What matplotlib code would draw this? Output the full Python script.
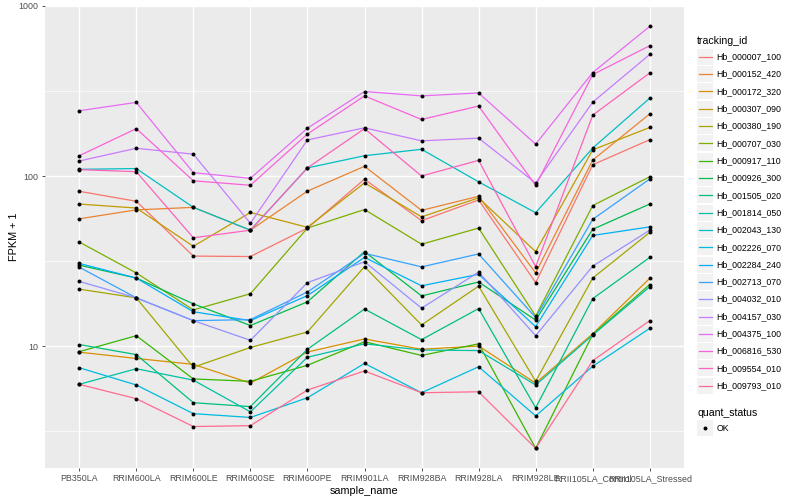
import matplotlib
matplotlib.use("Agg")
from matplotlib import pyplot as plt
from matplotlib.patches import Rectangle
import numpy as np

plt.rcParams['font.family'] = ['Liberation Sans', 'DejaVu Sans']

# x categories
samples = ["PB350LA", "RRIM600LA", "RRIM600LE", "RRIM600SE", "RRIM600PE",
           "RRIM901LA", "RRIM928BA", "RRIM928LA", "RRIM928LE",
           "RRII105LA_Control", "RRII105LA_Stressed"]

tracking_ids = ["Hb_000007_100", "Hb_000152_420", "Hb_000172_320", "Hb_000307_090",
                "Hb_000380_190", "Hb_000707_030", "Hb_000917_110", "Hb_000926_300",
                "Hb_001505_020", "Hb_001814_050", "Hb_002043_130", "Hb_002226_070",
                "Hb_002284_240", "Hb_002713_070", "Hb_004032_010", "Hb_004157_030",
                "Hb_004375_100", "Hb_006816_530", "Hb_009554_010", "Hb_009793_010"]

# FPKM + 1, one list per gene
hb_000007_100 = [81.3, 71, 33.8, 33.6, 49.4, 95.8, 54.6, 72.3, 23.6, 116.5, 163.5]
hb_000152_420 = [56, 63.2, 65.4, 48, 81.5, 114, 62.8, 76, 26.9, 124, 232]
hb_000172_320 = [9.2, 8.45, 7.8, 6.05, 9.22, 11.0, 9.57, 10.0, 6.05, 11.8, 25.0]
hb_000307_090 = [68.4, 64.8, 38.6, 61, 49.9, 91.1, 57.5, 74.4, 35.9, 142.5, 193]
hb_000380_190 = [21.6, 19.2, 7.5, 9.8, 12.1, 29.3, 13.3, 22.5, 6.2, 25.1, 46.6]
hb_000707_030 = [40.9, 26.9, 16.3, 20.3, 49.4, 63.5, 39.7, 49.4, 15.0, 67, 99]
hb_000917_110 = [9.26, 11.5, 6.4, 6.2, 7.7, 10.6, 8.8, 10.3, 2.5, 11.7, 23.0]
hb_000926_300 = [29.9, 25.1, 17.7, 13.2, 18.2, 35.9, 19.7, 23.8, 14.2, 48.6, 68.4]
hb_001505_020 = [10.2, 8.9, 4.64, 4.4, 9.57, 16.5, 10.9, 16.6, 4.33, 19.0, 33.2]
hb_001814_050 = [5.95, 7.35, 6.3, 4.1, 8.59, 10.3, 9.47, 9.4, 5.9, 11.6, 22.3]
hb_002043_130 = [109.5, 110.6, 65.4, 48, 111.6, 131.6, 143.6, 92.4, 60.8, 146, 287]
hb_002226_070 = [7.45, 5.9, 4.0, 3.8, 4.96, 7.9, 5.31, 7.55, 3.88, 7.6, 12.7]
hb_002284_240 = [30.6, 25.1, 15.9, 14.1, 19.8, 33.2, 22.6, 26.4, 13.0, 44.7, 50.2]
hb_002713_070 = [29.1, 19.2, 14.1, 14.3, 20.8, 35.1, 29.2, 34.8, 14.7, 55.6, 96]
hb_004032_010 = [24, 19.2, 14.1, 10.8, 23.6, 31.3, 16.7, 27.2, 11.5, 29.5, 48]
hb_004157_030 = [122.5, 145.6, 134.4, 52.7, 163, 192, 161, 167, 91, 272, 519]
hb_004375_100 = [242, 271, 104.6, 96.9, 191, 314, 296, 308, 154, 406, 759]
hb_006816_530 = [131.6, 190, 93.7, 88.2, 176.5, 296, 215, 258, 88, 395, 584]
hb_009554_010 = [109, 106, 43.3, 48, 111.6, 190, 100, 123.6, 29.3, 228, 404]
hb_009793_010 = [5.95, 4.9, 3.36, 3.4, 5.51, 7.13, 5.31, 5.38, 2.5, 8.2, 14.1]

series = [hb_000007_100, hb_000152_420, hb_000172_320, hb_000307_090,
          hb_000380_190, hb_000707_030, hb_000917_110, hb_000926_300,
          hb_001505_020, hb_001814_050, hb_002043_130, hb_002226_070,
          hb_002284_240, hb_002713_070, hb_004032_010, hb_004157_030,
          hb_004375_100, hb_006816_530, hb_009554_010, hb_009793_010]

# ggplot default hue palette, 20 levels
colors = ["#F8766D", "#EA8331", "#D89000", "#C09B00", "#A3A500", "#7CAE00",
          "#39B600", "#00BB4E", "#00BF7D", "#00C1A3", "#00BFC4", "#00BAE0",
          "#00B0F6", "#35A2FF", "#9590FF", "#C77CFF", "#E76BF3", "#FA62DB",
          "#FF62BC", "#FF6C91"]

W, H = 800, 500
fig = plt.figure(figsize=(8, 5), dpi=100)
# panel in pixels: left 45, right 684, top 6, bottom 468
ax = fig.add_axes([45 / W, (H - 468) / H, (684 - 45) / W, (468 - 6) / H])
ax.set_facecolor("#EBEBEB")

x = np.arange(len(samples))
for vals, c in zip(series, colors):
    ax.plot(x, vals, color=c, lw=0.9, zorder=2)
for vals in series:
    ax.scatter(x, vals, s=8, color="black", marker="o", zorder=3, linewidths=0)

ax.set_yscale("log")
ax.set_ylim(1.916, 1000)
ax.set_xlim(-0.6, len(samples) - 0.4)

ax.set_yticks([10, 100, 1000])
ax.set_yticklabels(["10", "100", "1000"])
ax.set_yticks([10 ** 0.5, 10 ** 1.5, 10 ** 2.5], minor=True)
ax.yaxis.set_minor_formatter(matplotlib.ticker.NullFormatter())
ax.set_xticks(x)
ax.set_xticklabels(samples)

ax.grid(True, which="major", color="white", lw=1.0)
ax.grid(True, which="minor", axis="y", color="white", lw=0.5)
ax.set_axisbelow(True)
for s in ax.spines.values():
    s.set_visible(False)
ax.tick_params(axis="both", which="major", length=2.5, width=0.6, color="#333333",
               labelsize=6.4, labelcolor="#4D4D4D", pad=2)
ax.tick_params(axis="y", which="minor", length=0)

ax.set_xlabel("sample_name", fontsize=7.8, labelpad=2)
ax.set_ylabel("FPKM + 1", fontsize=7.8)
ax.yaxis.set_label_coords(-0.040, 0.5)

# legend drawn in pixel space
lax = fig.add_axes([0, 0, 1, 1])
lax.set_xlim(0, W)
lax.set_ylim(H, 0)
lax.axis("off")

lax.text(697, 40.7, "tracking_id", fontsize=7.6, va="center", ha="left")
for i, (name, c) in enumerate(zip(tracking_ids, colors)):
    yc = 56.7 + i * 17.32
    lax.add_patch(Rectangle((697, yc - 8), 16, 16, facecolor="#F2F2F2", edgecolor="none"))
    lax.plot([698.5, 711.5], [yc, yc], color=c, lw=0.9)
    lax.text(716.5, yc, name, fontsize=6.3, va="center", ha="left")

lax.text(697, 412.7, "quant_status", fontsize=7.6, va="center", ha="left")
lax.add_patch(Rectangle((697, 428.3 - 8), 16, 16, facecolor="#F2F2F2", edgecolor="none"))
lax.scatter([705], [428.3], s=8, color="black", marker="o", linewidths=0)
lax.text(716.5, 428.3, "OK", fontsize=6.3, va="center", ha="left")

fig.savefig("out.png", dpi=100)
